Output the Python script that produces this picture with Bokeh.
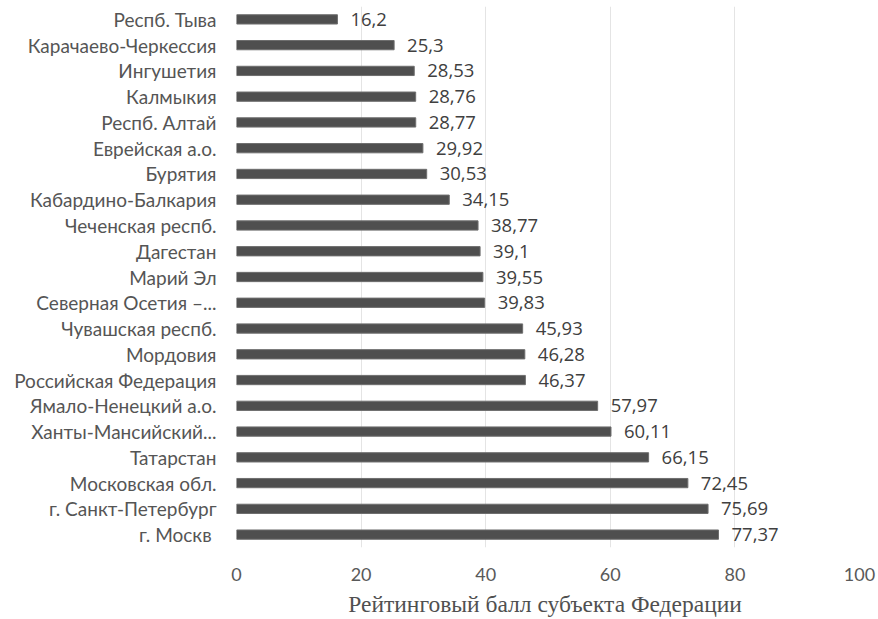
from bokeh.plotting import figure
from bokeh.models import FactorRange, ColumnDataSource, LabelSet
from bokeh.core.properties import value
from bokeh.embed import file_html
from bokeh.resources import INLINE

regions = ["Респб. Тыва", "Карачаево-Черкессия", "Ингушетия", "Калмыкия", "Респб. Алтай",
           "Еврейская а.о.", "Бурятия", "Кабардино-Балкария", "Чеченская респб.", "Дагестан",
           "Марий Эл", "Северная Осетия –...", "Чувашская респб.", "Мордовия",
           "Российская Федерация", "Ямало-Ненецкий а.о.", "Ханты-Мансийский...", "Татарстан",
           "Московская обл.", "г. Санкт-Петербург", "г. Москв "]
scores = [16.2, 25.3, 28.53, 28.76, 28.77, 29.92, 30.53, 34.15, 38.77, 39.1, 39.55, 39.83,
          45.93, 46.28, 46.37, 57.97, 60.11, 66.15, 72.45, 75.69, 77.37]
score_labels = ["16,2", "25,3", "28,53", "28,76", "28,77", "29,92", "30,53", "34,15", "38,77",
                "39,1", "39,55", "39,83", "45,93", "46,28", "46,37", "57,97", "60,11", "66,15",
                "72,45", "75,69", "77,37"]
x_ticks = [0, 20, 40, 60, 80, 100]
x_title = "Рейтинговый балл субъекта  Федерации"

src = ColumnDataSource(dict(region=regions, score=scores, lab=score_labels))

p = figure(width=876, height=619, output_backend="svg", toolbar_location=None,
           y_range=FactorRange(factors=list(reversed(regions)), range_padding=0),
           x_range=(0, 100), min_border_left=236, min_border_right=17,
           min_border_top=6, min_border_bottom=60)
p.outline_line_color = None
p.background_fill_color = "white"

p.hbar(y="region", right="score", left=0, height=0.36, source=src,
       fill_color="#4f4f4f", line_color="#6e6e6e", line_width=1)

labels = LabelSet(x="score", y="region", text="lab", source=src, x_offset=13,
                  text_align="left", text_baseline="middle", text_font=value("Open Sans"),
                  text_font_size=value("18.5px"), text_color=value("#404040"))
p.add_layout(labels)

p.xaxis.ticker = x_ticks
p.xaxis.axis_line_color = None
p.xaxis.major_tick_line_color = None
p.xaxis.minor_tick_line_color = None
p.xaxis.major_label_text_font = "Lato"
p.xaxis.major_label_text_font_size = "18px"
p.xaxis.major_label_text_color = "#595959"
p.xaxis.major_label_standoff = 14
p.xaxis.axis_label = x_title
p.xaxis.axis_label_text_font = "Liberation Serif"
p.xaxis.axis_label_text_font_style = "normal"
p.xaxis.axis_label_text_font_size = "23.5px"
p.xaxis.axis_label_text_color = "#505050"
p.xaxis.axis_label_standoff = 7

p.yaxis.axis_line_color = None
p.yaxis.major_tick_line_color = None
p.yaxis.minor_tick_line_color = None
p.yaxis.major_label_text_font = "Lato"
p.yaxis.major_label_text_font_size = "19px"
p.yaxis.major_label_text_color = "#555555"
p.yaxis.major_label_standoff = 14

p.xgrid.grid_line_color = "#e4e4e4"
p.ygrid.grid_line_color = None

open("out.html", "w").write(file_html(p, INLINE))
